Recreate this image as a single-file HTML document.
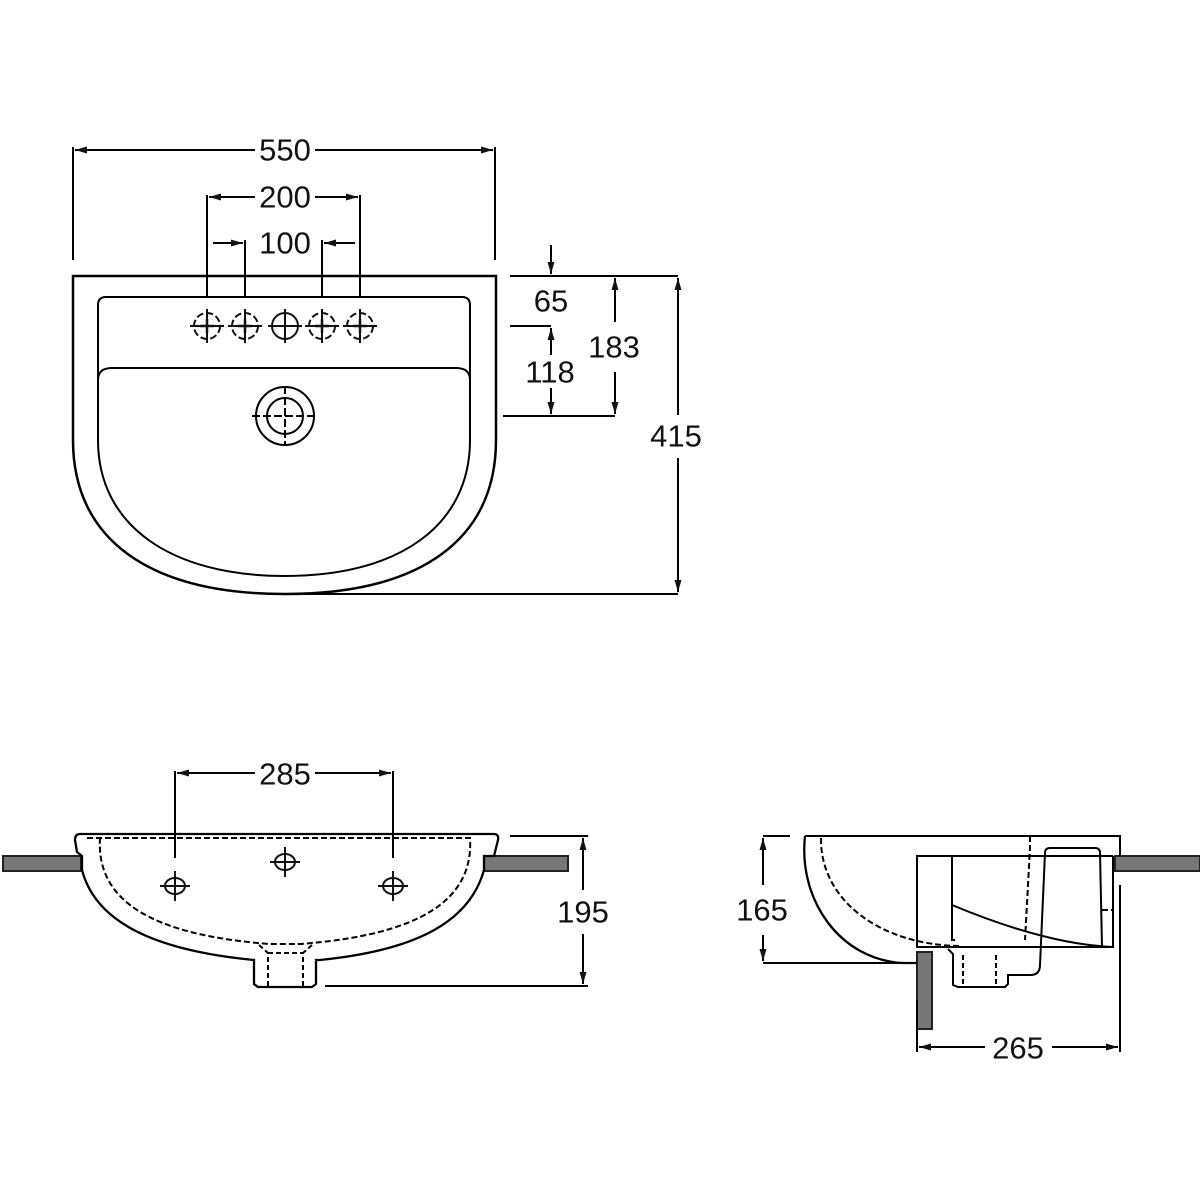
<!DOCTYPE html>
<html><head><meta charset="utf-8"><style>
html,body{margin:0;padding:0;background:#fff;}
svg{display:block;}
text{font-family:"Liberation Sans",sans-serif;font-size:31px;fill:#111;text-anchor:middle;dominant-baseline:central;}
</style></head><body>
<svg width="1200" height="1200" viewBox="0 0 1200 1200" xmlns="http://www.w3.org/2000/svg">
<defs>
<marker id="a" viewBox="0 0 12 10" refX="12" refY="5" markerWidth="12" markerHeight="10" markerUnits="userSpaceOnUse" orient="auto-start-reverse"><path d="M0,1.5 L12,5 L0,8.5 z" fill="#111"/></marker>
<g id="hole"><circle r="13" fill="none" stroke="#111" stroke-width="2" stroke-dasharray="7,3"/><path d="M-17,0H17M0,-17V17" stroke="#111" stroke-width="2"/><path d="M-7,0H7M0,-7V7" stroke="#111" stroke-width="2.5"/></g>
<g id="fhole"><ellipse rx="10" ry="8" fill="none" stroke="#111" stroke-width="2"/><path d="M-15,0H15M0,-15V15" stroke="#111" stroke-width="2"/></g>
</defs>
<g fill="none" stroke="#000" stroke-width="2">
<path d="M73,276 H496 V440 C496,540 420,594 285,594 C150,594 73,540 73,440 Z" stroke-width="2.5"/>
<path d="M98,305 Q98,297 106,297 H462 Q470,297 470,305 V440 C470,525 400,576 285,576 C170,576 98,525 98,440 Z"/>
<path d="M98,380 Q98,368 112,368 H456 Q470,368 470,380"/>
<circle cx="285" cy="416" r="29"/><circle cx="285" cy="416" r="18"/>
<path d="M252,416H318M285,386V446" stroke-dasharray="8,3"/>
<path d="M73,147V260M495,147V260"/>
<line x1="75" y1="150" x2="255" y2="150" marker-start="url(#a)"/>
<line x1="315" y1="150" x2="493" y2="150" marker-end="url(#a)"/>
<path d="M207,195V297M360,195V297M245,240V297M322,240V297"/>
<line x1="209" y1="197" x2="255" y2="197" marker-start="url(#a)"/>
<line x1="315" y1="197" x2="358" y2="197" marker-end="url(#a)"/>
<line x1="213" y1="243" x2="243" y2="243" marker-end="url(#a)"/>
<line x1="355" y1="243" x2="324" y2="243" marker-end="url(#a)"/>
<path d="M510,276H678M510,326H551M503,416H615M285,594H678"/>
<line x1="551" y1="245" x2="551" y2="274" marker-end="url(#a)"/>
<line x1="551" y1="355" x2="551" y2="328" marker-end="url(#a)"/>
<line x1="551" y1="388" x2="551" y2="414" marker-end="url(#a)"/>
<line x1="615" y1="322" x2="615" y2="278" marker-end="url(#a)"/>
<line x1="615" y1="372" x2="615" y2="414" marker-end="url(#a)"/>
<line x1="678" y1="415" x2="678" y2="278" marker-end="url(#a)"/>
<line x1="678" y1="458" x2="678" y2="592" marker-end="url(#a)"/>
<rect x="3" y="856" width="78" height="15" fill="#777" stroke="#222"/>
<rect x="484" y="856" width="84" height="15" fill="#777" stroke="#222"/>
<path d="M80,834 H494 Q499,834 498,840 L494,856 L484,856 L484,870 C470,920 420,950 320,960 L316,960 L316,984 L312,987 H258 L254,984 L254,960 C150,950 95,920 82,870 L82,856 L77,852 L75,840 Q75,834 80,834 Z" stroke-width="2.3"/>
<path d="M87,838 H470 C474,900 420,935 300,944 H270 C150,935 96,900 100,838" stroke-dasharray="6,3"/>
<path d="M259,945 L268,953 V987 M312,945 L303,953 V987 M268,953 H303" stroke-dasharray="5,3"/>
<path d="M175,771V858M393,771V858"/>
<line x1="177" y1="773" x2="255" y2="773" marker-start="url(#a)"/>
<line x1="315" y1="773" x2="391" y2="773" marker-end="url(#a)"/>
<path d="M510,836H588M325,986H588"/>
<line x1="583" y1="890" x2="583" y2="838" marker-end="url(#a)"/>
<line x1="583" y1="934" x2="583" y2="984" marker-end="url(#a)"/>
<rect x="1115" y="856" width="85" height="15" fill="#777" stroke="#222"/>
<rect x="917" y="952" width="15" height="77" fill="#777" stroke="#222"/>
<path d="M805,836 H1120 V856 M1113,856 V947 H917 V856 H1113" />
<path d="M805,836 C798,900 840,960 903,963 L917,963" stroke-width="2.3"/>
<path d="M821,838 C820,900 880,945 960,946" stroke-dasharray="6,3"/>
<path d="M952,856 V940 H955 M952,905 C1000,925 1060,945 1113,947"/>
<path d="M948,949 L953,954 V985 L958,987 H1005 L1008,984 V975 H1030 Q1040,975 1040,965 L1045,853 Q1045,848 1050,848 H1095 Q1100,848 1100,853 L1102,947"/>
<path d="M1030,836 L1030,848 L1025,940 M1102,910 H1112" stroke-dasharray="6,3"/>
<path d="M963,955 V985 M996,955 V985" stroke-dasharray="5,3"/>
<path d="M763,836H790M763,963H902"/>
<line x1="763" y1="885" x2="763" y2="838" marker-end="url(#a)"/>
<line x1="763" y1="935" x2="763" y2="961" marker-end="url(#a)"/>
<path d="M917,1000V1052M1120,885V1052"/>
<line x1="985" y1="1047" x2="919" y2="1047" marker-end="url(#a)"/>
<line x1="1052" y1="1047" x2="1118" y2="1047" marker-end="url(#a)"/>
</g>
<use href="#hole" x="207" y="326"/><use href="#hole" x="245" y="326"/>
<g transform="translate(285,326)"><circle r="13" fill="none" stroke="#111" stroke-width="2"/><path d="M-17,0H17M0,-17V17" stroke="#111" stroke-width="2"/></g>
<use href="#hole" x="322" y="326"/><use href="#hole" x="360" y="326"/>
<use href="#fhole" x="175" y="886"/><use href="#fhole" x="285" y="862"/><use href="#fhole" x="393" y="886"/>
<text x="285" y="150">550</text>
<text x="285" y="197">200</text>
<text x="285" y="243">100</text>
<text x="551" y="301">65</text>
<text x="614" y="347">183</text>
<text x="550" y="372">118</text>
<text x="676" y="436">415</text>
<text x="285" y="774">285</text>
<text x="583" y="912">195</text>
<text x="762" y="910">165</text>
<text x="1018" y="1048">265</text>
</svg>
</body></html>
